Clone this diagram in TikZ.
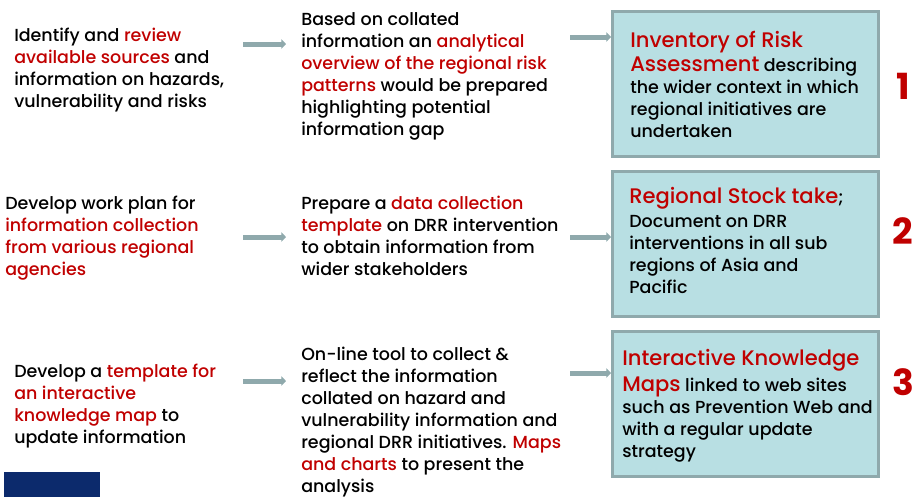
\documentclass[tikz,border=0pt]{standalone}
\usepackage{fontspec}
\setmainfont{Poppins}[UprightFont={* Medium}, BoldFont={* Bold}]
\usepackage{tikz}
\usetikzlibrary{arrows.meta}
\definecolor{dred}{HTML}{C00000}
\definecolor{boxfill}{HTML}{B8DFE3}
\definecolor{boxline}{HTML}{8FA9AC}
\definecolor{navy}{HTML}{0C2A6C}
\newcommand{\redtxt}[1]{\textcolor{dred}{#1}}
\newcommand{\bigred}[1]{{\fontsize{15.8}{16.5}\selectfont\textcolor{dred}{#1}}}

\begin{document}
\begin{tikzpicture}[x=0.75pt,y=-0.75pt,
	txt/.style={align=left, inner sep=0, anchor=base west, font=\fontsize{13.1}{16.5}\selectfont},
	rbox/.style={draw=boxline, line width=2.25pt, fill=boxfill, anchor=north west, minimum width=199.5pt, minimum height=108.75pt},
	flow/.style={draw=boxline, line width=3.75pt, -{Triangle[length=3.5pt,width=7pt]}},
	num/.style={text=dred, inner sep=0, font=\fontsize{27}{30}\selectfont\bfseries}]
	\useasboundingbox (0,0) rectangle (916,497);

	\node [rbox] (box1) at (611,10) {};
	\node [rbox] (box2) at (611,170) {};
	\node [rbox] (box3) at (611,330) {};

	% text nodes are placed at the baseline of their last line
	\node [txt] (s1) at (14,107) {Identify and \redtxt{review}\\ \redtxt{available sources} and\\ information on hazards,\\ vulnerability and risks};
	\node [txt] (s2) at (5,275) {Develop work plan for\\ \redtxt{information collection}\\ \redtxt{from various regional}\\ \redtxt{agencies}};
	\node [txt] (s3) at (14,443) {Develop a \redtxt{template for}\\ \redtxt{an interactive}\\ \redtxt{knowledge map} to\\ update information};

	\node [txt] (p1) at (301,135) {Based on collated\\ information an \redtxt{analytical}\\ \redtxt{overview of the regional risk}\\ \redtxt{patterns} would be prepared\\ highlighting potential\\ information gap};
	\node [txt] (p2) at (301,275) {Prepare a \redtxt{data collection}\\ \redtxt{template} on DRR intervention\\ to obtain information from\\ wider stakeholders};
	\node [txt] (p3) at (301,492) {On-line tool to collect \&\\ reflect the information\\ collated on hazard and\\ vulnerability information and\\ regional DRR initiatives. \redtxt{Maps}\\ \redtxt{and charts} to present the\\ analysis};

	\node [txt] (r1) at (630,137) {\bigred{Inventory of Risk}\\[1pt] \bigred{Assessment} describing\\ the wider context in which\\ regional initiatives are\\ undertaken};
	\node [txt] (r2) at (629,293) {\bigred{Regional Stock take};\\[1pt] Document on DRR\\ interventions in all sub\\ regions of Asia and\\ Pacific};
	\node [txt] (r3) at (622,457) {\bigred{Interactive Knowledge}\\[3pt] \bigred{Maps} linked to web sites\\ such as Prevention Web and\\ with a regular update\\ strategy};

	\node [num] (n1) at (903,86) {1};
	\node [num] (n2) at (903,231) {2};
	\node [num] (n3) at (903,382) {3};

	% arrows
	\coordinate (a1) at (243,44);
	\coordinate (b1) at (286,44);
	\coordinate (a2) at (243,237);
	\coordinate (b2) at (286,237);
	\coordinate (a3) at (243,381);
	\coordinate (b3) at (286,381);
	\draw [flow] (a1) -- (b1);
	\draw [flow] (a2) -- (b2);
	\draw [flow] (a3) -- (b3);
	\coordinate (c1) at (570,37);
	\coordinate (c2) at (570,237);
	\coordinate (c3) at (570,373);
	\draw [flow] (c1) -- (c1 -| box1.west);
	\draw [flow] (c2) -- (c2 -| box2.west);
	\draw [flow] (c3) -- (c3 -| box3.west);

	\fill [navy] (4,472) rectangle (100,497);
\end{tikzpicture}
\end{document}
